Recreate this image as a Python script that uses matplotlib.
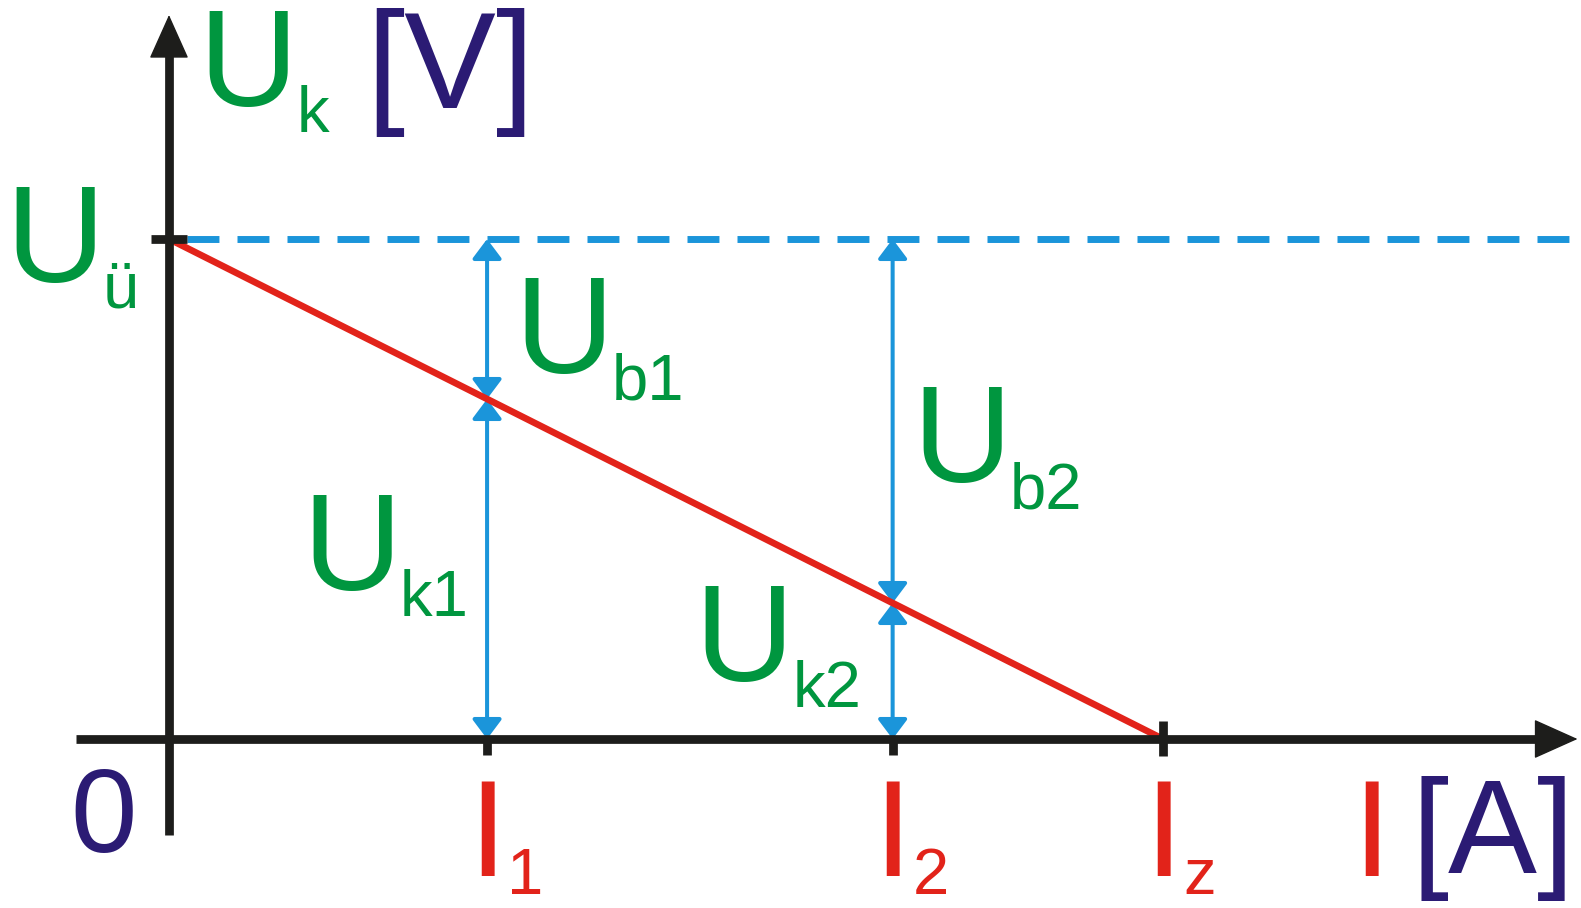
import matplotlib.pyplot as plt

plt.rcParams['font.family'] = ['Liberation Sans', 'DejaVu Sans']

# load line: terminal voltage U_k falls linearly from U_ue to 0 at I_z
U_ue = 5.0
I_z = 10.0
I_points = [3.2, 7.28]
I_names = ['1', '2']

# label layout (data coords): main letter position, subscript text
U_labels = [('b1', 3.47, 3.66), ('k1', 1.34, 1.49), ('b2', 7.48, 2.57), ('k2', 5.29, 0.58)]

GREEN = '#00963F'
RED = '#E2231A'
BLUE = '#1B95DA'
NAVY = '#2B1B74'
BLACK = '#1D1D1B'


def u_k(i):
    return U_ue * (1 - i / I_z)


fig = plt.figure(figsize=(15.81, 9.08), dpi=100)
ax = fig.add_axes([0, 0, 1, 1])
ax.set_xlim(-1.70, 14.205)
ax.set_ylim(-1.69, 7.39)
ax.axis('off')

AX_LW = 6.3

# axes with arrows
ax.plot([-0.94, 13.8], [0, 0], color=BLACK, lw=AX_LW, solid_capstyle='butt', zorder=5)
ax.plot([0, 0], [-0.96, 6.9], color=BLACK, lw=AX_LW, solid_capstyle='butt', zorder=5)
ax.annotate('', xy=(14.17, 0), xytext=(13.5, 0),
            arrowprops=dict(arrowstyle='-|>,head_length=2.9,head_width=1.3', color=BLACK,
                            lw=1, shrinkA=0, shrinkB=0, mutation_scale=10), zorder=6)
ax.annotate('', xy=(0, 7.24), xytext=(0, 6.6),
            arrowprops=dict(arrowstyle='-|>,head_length=2.9,head_width=1.3', color=BLACK,
                            lw=1, shrinkA=0, shrinkB=0, mutation_scale=10), zorder=6)

# dashed U_ue level
dash, = ax.plot([0.18, 14.3], [U_ue, U_ue], color=BLUE, lw=5, solid_capstyle='butt', zorder=3)
dash.set_dashes([4.6, 2.6])

# red load line
ax.plot([0, I_z], [U_ue, 0], color=RED, lw=4.8, zorder=4)

# ticks
ax.plot([-0.18, 0.18], [U_ue, U_ue], color=BLACK, lw=AX_LW, solid_capstyle='butt', zorder=6)
for i in I_points:
    ax.plot([i, i], [0, -0.16], color=BLACK, lw=AX_LW, solid_capstyle='butt', zorder=6)
ax.plot([I_z, I_z], [0.18, -0.17], color=BLACK, lw=AX_LW, solid_capstyle='butt', zorder=6)

# blue dimension arrows
for i in I_points:
    for a, b in [(U_ue, u_k(i)), (u_k(i), 0)]:
        ax.annotate('', xy=(i, b), xytext=(i, a),
                    arrowprops=dict(arrowstyle='<|-|>,head_length=1.2,head_width=0.9', color=BLUE,
                                    lw=2.9, shrinkA=0, shrinkB=0, mutation_scale=10), zorder=3)

# texts
BIG = 99
SUB = 47
SDX, SDY = 0.98, -0.26


def ulabel(x, y, sub):
    ax.text(x, y, 'U', fontsize=BIG, color=GREEN, ha='left', va='baseline')
    ax.text(x + SDX, y + SDY, sub, fontsize=SUB, color=GREEN, ha='left', va='baseline')


ulabel(0.30, 6.33, 'k')
ax.text(1.98, 6.31, '[V]', fontsize=BIG, color=NAVY, ha='left', va='baseline')
ulabel(-1.65, 4.57, 'ü')
for sub, x, y in U_labels:
    ulabel(x, y, sub)

ax.text(-0.99, -1.13, '0', fontsize=86, color=NAVY, ha='left', va='baseline')
for i, name in zip(I_points + [I_z], I_names + ['z']):
    ax.text(i, -1.37, 'I', fontsize=BIG, color=RED, ha='center', va='baseline')
    ax.text(i + 0.2, -1.55, name, fontsize=SUB, color=RED, ha='left', va='baseline')
ax.text(12.10, -1.37, 'I', fontsize=BIG, color=RED, ha='center', va='baseline')
ax.text(12.50, -1.34, '[A]', fontsize=96, color=NAVY, ha='left', va='baseline')

fig.savefig('out.png', dpi=100)
